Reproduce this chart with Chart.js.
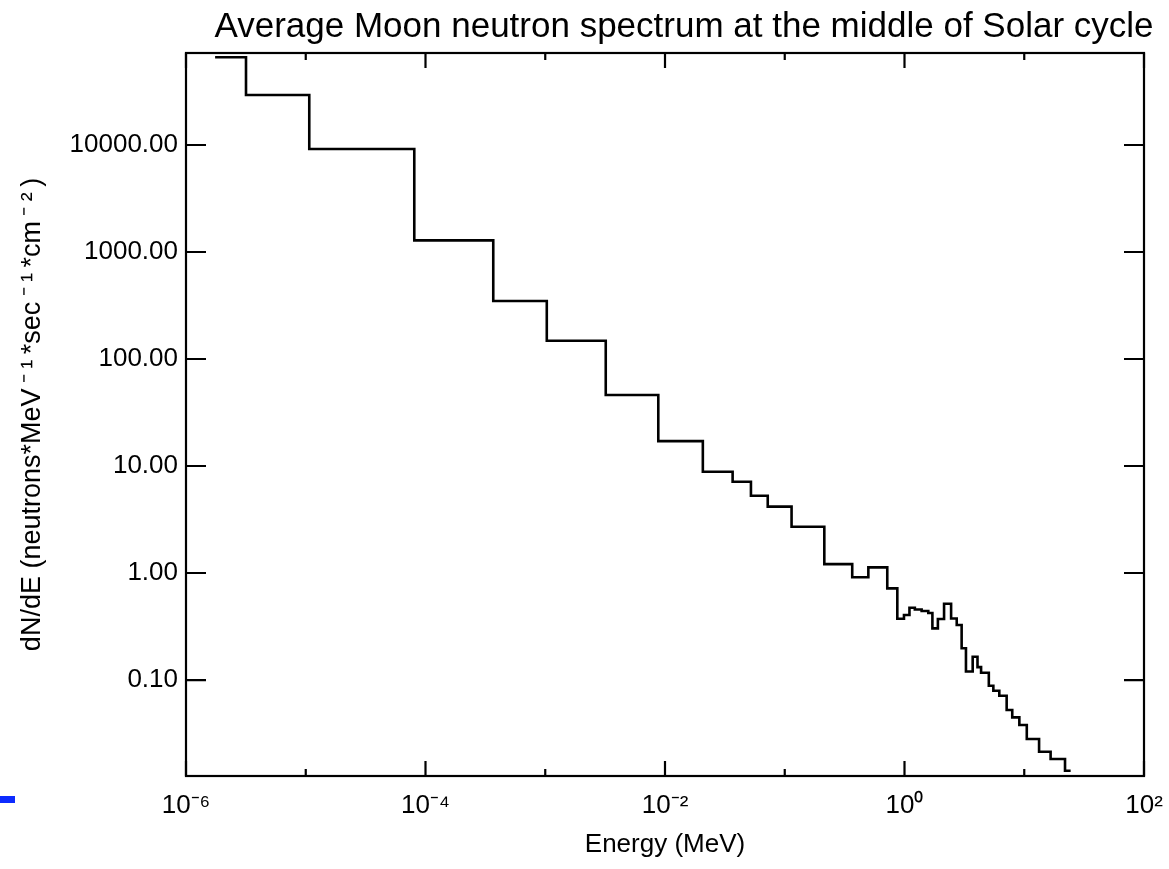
<!DOCTYPE html>
<html>
<head>
<meta charset="utf-8">
<script src="https://cdn.jsdelivr.net/npm/chart.js@4.4.0/dist/chart.umd.min.js"></script>
<style>
  html, body { margin: 0; padding: 0; background: #fff; }
  #wrap { position: relative; width: 1169px; height: 869px; }
  #blueMark { position: absolute; left: 0; top: 796px; width: 15px; height: 7px; background: #0d2bff; }
</style>
</head>
<body>
<div id="wrap">
  <canvas id="spectrum" width="1169" height="869"></canvas>
  <div id="blueMark"></div>
</div>
<script>
// Bordes de los bins de energía (MeV)
const binEdges = [
    1.75e-6, 3.17e-6, 1.07e-5, 8.06e-5, 3.68e-4, 1.03e-3, 3.20e-3, 8.79e-3,
    2.07e-2, 3.67e-2, 5.22e-2, 7.21e-2, 0.114, 0.214, 0.366, 0.499, 0.718,
    0.871, 0.99, 1.10, 1.22, 1.39, 1.58, 1.71, 1.90, 2.14, 2.45, 2.73, 3.00,
    3.26, 3.71, 4.07, 4.36, 5.06, 5.52, 6.19, 7.13, 7.94, 9.10, 10.5, 13.3,
    16.6, 21.9, 24.4
];

// dN/dE en cada bin
const fluxValues = [
    66000, 29300, 9180, 1285, 348, 148, 46.1, 17.1, 8.85, 7.13, 5.28, 4.17,
    2.71, 1.21, 0.912, 1.13, 0.719, 0.374, 0.405, 0.473, 0.456, 0.441, 0.423,
    0.304, 0.372, 0.517, 0.376, 0.327, 0.198, 0.120, 0.165, 0.132, 0.117,
    0.0885, 0.0794, 0.0713, 0.0525, 0.0448, 0.0380, 0.0281, 0.0214, 0.0183,
    0.0142
];

// Marcas de los ejes
const xTickValues = [1e-6, 1e-5, 1e-4, 1e-3, 1e-2, 1e-1, 1e0, 1e1, 1e2];
const xTickLabels = ['10\u207B\u2076', '', '10\u207B\u2074', '', '10\u207B\u00B2', '', '10\u2070', '', '10\u00B2'];
const yTickValues = [0.1, 1, 10, 100, 1000, 10000];

const xRange = [1e-6, 1e2];
const yRange = [0.01268, 72400];

const FONT = "'Liberation Sans', Arial, Helvetica, sans-serif";

// Puntos del histograma escalonado
const points = binEdges.map((e, i) => ({ x: e, y: fluxValues[Math.min(i, fluxValues.length - 1)] }));

// Marco y marcas (ticks) dibujados sobre las escalas
const framePlugin = {
    id: 'frame',
    afterDraw(chart) {
        const { ctx, chartArea: a, scales } = chart;
        ctx.save();
        ctx.strokeStyle = '#000';
        ctx.lineWidth = 2.2;
        ctx.strokeRect(a.left, a.top, a.right - a.left, a.bottom - a.top);
        ctx.beginPath();
        xTickValues.forEach((v, i) => {
            const x = scales.x.getPixelForValue(v);
            const len = xTickLabels[i] ? 15 : 7;
            ctx.moveTo(x, a.bottom); ctx.lineTo(x, a.bottom - len);
            ctx.moveTo(x, a.top); ctx.lineTo(x, a.top + len);
        });
        yTickValues.forEach(v => {
            const y = scales.y.getPixelForValue(v);
            ctx.moveTo(a.left, y); ctx.lineTo(a.left + 20, y);
            ctx.moveTo(a.right, y); ctx.lineTo(a.right - 20, y);
        });
        ctx.stroke();

        // Título
        ctx.fillStyle = '#000';
        ctx.font = '35px ' + FONT;
        ctx.textAlign = 'center';
        ctx.textBaseline = 'alphabetic';
        ctx.fillText('Average Moon neutron spectrum at the middle of Solar cycle', 684, 37);
        ctx.restore();
    }
};

new Chart(document.getElementById('spectrum').getContext('2d'), {
    type: 'line',
    data: {
        datasets: [{
            data: points,
            stepped: 'before',
            borderColor: '#000',
            borderWidth: 2.6,
            pointRadius: 0,
            fill: false
        }]
    },
    options: {
        responsive: false,
        animation: false,
        layout: { padding: { top: 53, right: 25, left: 0, bottom: 0 } },
        plugins: { legend: { display: false }, tooltip: { enabled: false } },
        scales: {
            x: {
                type: 'logarithmic',
                min: xRange[0],
                max: xRange[1],
                afterBuildTicks: scale => { scale.ticks = xTickValues.map(v => ({ value: v })); },
                afterFit: scale => {
                    scale.height = 93;
                    scale.paddingLeft = 0;
                    scale.paddingRight = 0;
                },
                grid: { display: false, drawTicks: false },
                border: { display: false },
                ticks: {
                    autoSkip: false,
                    maxRotation: 0,
                    padding: 14,
                    color: '#000',
                    font: { family: FONT, size: 26 },
                    callback: (v, i) => xTickLabels[i]
                },
                title: {
                    display: true,
                    text: 'Energy (MeV)',
                    color: '#000',
                    font: { family: FONT, size: 26 },
                    padding: { top: 0, bottom: 9 }
                }
            },
            y: {
                type: 'logarithmic',
                min: yRange[0],
                max: yRange[1],
                afterBuildTicks: scale => { scale.ticks = yTickValues.map(v => ({ value: v })); },
                afterFit: scale => { scale.width = 186; },
                grid: { display: false, drawTicks: false },
                border: { display: false },
                ticks: {
                    autoSkip: false,
                    padding: 8,
                    color: '#000',
                    font: { family: FONT, size: 26 },
                    callback: v => Number(v).toFixed(2)
                },
                title: {
                    display: true,
                    text: 'dN/dE (neutrons*MeV\u2009\u207B\u2009\u00B9\u2009*sec\u2009\u207B\u2009\u00B9\u2009*cm\u2009\u207B\u2009\u00B2\u2009)',
                    color: '#000',
                    font: { family: FONT, size: 27 },
                    padding: { top: 16, bottom: 0 }
                }
            }
        }
    },
    plugins: [framePlugin]
});
</script>
</body>
</html>
